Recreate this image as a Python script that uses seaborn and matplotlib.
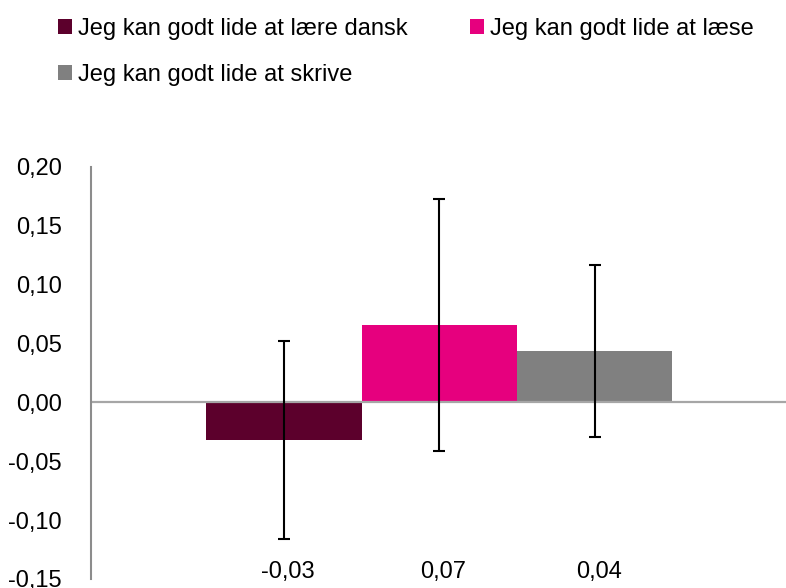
import numpy as np
import pandas as pd
import matplotlib
matplotlib.use("Agg")
import matplotlib.pyplot as plt
from matplotlib.patches import Patch
from matplotlib.ticker import FuncFormatter
import seaborn as sns

# data
series = ["Jeg kan godt lide at lære dansk", "Jeg kan godt lide at læse", "Jeg kan godt lide at skrive"]
values = [-0.032, 0.066, 0.044]
errors = [0.084, 0.107, 0.073]
colors = ["#5c002c", "#e6007e", "#808080"]
yticks = [-0.15, -0.10, -0.05, 0.00, 0.05, 0.10, 0.15, 0.20]

sns.set_style("white")
plt.rcParams["font.family"] = ["Liberation Sans", "DejaVu Sans"]
plt.rcParams["font.size"] = 17
plt.rcParams["text.color"] = "black"
plt.rcParams["ytick.color"] = "black"

df = pd.DataFrame({"series": series, "value": values, "err": errors})

fig = plt.figure(figsize=(7.86, 5.88), dpi=100)
ax = fig.add_axes([91 / 786, 1 - 579 / 588, 1 - 91 / 786, (579 - 167) / 588])
sns.barplot(df, x="series", y="value", hue="series", palette=colors, width=1,
            saturation=1, linewidth=0, legend=False, ax=ax)
xpos = np.arange(len(series))
ax.errorbar(xpos, df.value, yerr=df.err, fmt="none", ecolor="black",
            elinewidth=1.5, capsize=4.5, capthick=1.5, zorder=3)

ax.axhline(0, color="#a6a6a6", lw=1.6, zorder=2)
ax.set_ylim(-0.15, 0.20)
ax.set_xlim(-1.243, 3.232)
ax.set_yticks(yticks)
ax.yaxis.set_major_formatter(FuncFormatter(lambda v, p: f"{v:.2f}".replace(".", ",")))
ax.tick_params(axis="y", length=0, pad=21, labelsize=17, labelcolor="black")
ax.set_xticks([])
ax.set_xlabel("")
ax.set_ylabel("")
for s in ["top", "right", "bottom"]:
    ax.spines[s].set_visible(False)
ax.spines["left"].set_color("#8c8c8c")
ax.spines["left"].set_linewidth(1.5)

# data labels along the bottom
for x, v in zip(xpos, values):
    ax.annotate(f"{v:.2f}".replace(".", ","), xy=(x, 0.0), xycoords=ax.get_xaxis_transform(),
                xytext=(3, 1), textcoords="offset points",
                ha="center", va="baseline", fontsize=17, annotation_clip=False)

handles = [Patch(facecolor=c, edgecolor="none", label=s) for s, c in zip(series, colors)]
order = [0, 2, 1]
fig.legend([handles[i] for i in order], [series[i] for i in order], ncol=2,
           loc="upper left", bbox_to_anchor=(58 / 786, 1 - 18 / 588), frameon=False,
           fontsize=17, handlelength=0.6, handleheight=0.6, handletextpad=0.25,
           columnspacing=2.65, labelspacing=1.0, borderaxespad=0, borderpad=0)

fig.savefig("out.png", dpi=100)
